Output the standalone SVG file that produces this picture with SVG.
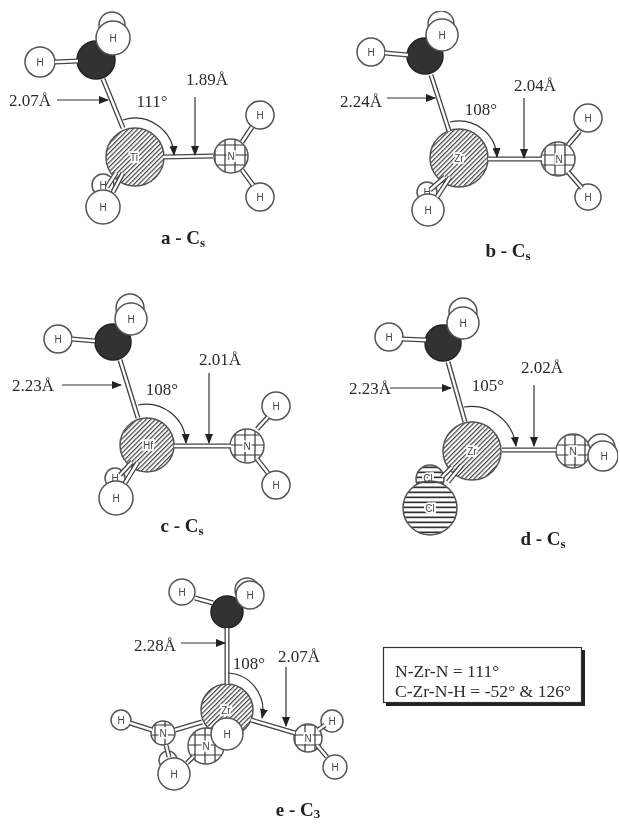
<svg xmlns="http://www.w3.org/2000/svg" width="620" height="824" viewBox="0 0 620 824">
<style>
text{font-family:"Liberation Serif","Times New Roman",serif;fill:#2c2c2c}
.d{font-size:17px}
.cap{font-size:19px;font-weight:bold;text-anchor:middle;fill:#222}
.sub{font-size:13px}
.box{font-size:17.6px}
.m{text-anchor:middle;font-size:17px}
.a{font-family:"Liberation Sans",Arial,sans-serif;font-size:10px;text-anchor:middle;fill:#444}
.al{stroke:#fff;stroke-width:3.5px;paint-order:stroke}
circle{stroke:#555;stroke-width:1.5}
.h{fill:#fff}
.c{fill:#333;stroke:#222}
.tm{fill:url(#diag)}
.n{fill:url(#grid)}
.cl{fill:url(#horiz)}
.bo{stroke:#444;stroke-width:5;fill:none}
.bi{stroke:#fff;stroke-width:2.4;fill:none}
.ar{stroke:#333;stroke-width:1.2;fill:none;marker-end:url(#tip)}
</style>
<defs>
<pattern id="diag" width="3.3" height="3.3" patternUnits="userSpaceOnUse" patternTransform="rotate(45)"><rect width="3.3" height="3.3" fill="#fff"/><rect width="1.2" height="3.3" fill="#444"/></pattern>
<pattern id="grid" width="10" height="10" patternUnits="userSpaceOnUse"><rect width="10" height="10" fill="#fff"/><path d="M0 5H10M5 0V10" stroke="#333" stroke-width="1.2"/></pattern>
<pattern id="horiz" width="5" height="5" patternUnits="userSpaceOnUse"><rect width="5" height="5" fill="#fff"/><rect y="1.5" width="5" height="1.7" fill="#333"/></pattern>
<marker id="tip" viewBox="0 0 10 8" refX="9" refY="4" markerWidth="10" markerHeight="8" markerUnits="userSpaceOnUse" orient="auto"><path d="M0 0L10 4L0 8Z" fill="#222"/></marker>
<filter id="scan" x="0" y="0" width="1" height="1"><feGaussianBlur stdDeviation="0.5"/></filter>
</defs>
<rect width="620" height="824" fill="#fff"/>
<g filter="url(#scan)">
<g id="nodes">
<g id="mol-a">
<g id="a-h3"><circle class="h" cx="112" cy="25" r="13"/></g>
<g id="a-c"><circle class="c" cx="96" cy="60" r="19"/></g>
<g id="a-h1"><circle class="h" cx="40" cy="62" r="15"/><text class="a" x="40" y="65.5">H</text></g>
<g id="a-h2"><circle class="h" cx="113" cy="38" r="17"/><text class="a" x="113" y="41.5">H</text></g>
<g id="a-ti"><circle class="tm" cx="135" cy="157" r="29"/><text class="a al" x="134" y="160.5">Ti</text></g>
<g id="a-n"><circle class="n" cx="231" cy="156" r="17"/><text class="a al" x="231" y="159.5">N</text></g>
<g id="a-h4"><circle class="h" cx="260" cy="115" r="14"/><text class="a" x="260" y="118.5">H</text></g>
<g id="a-h5"><circle class="h" cx="260" cy="197" r="14"/><text class="a" x="260" y="200.5">H</text></g>
<g id="a-h6"><circle class="h" cx="103" cy="185" r="11"/><text class="a" x="103" y="189">H</text></g>
<g id="a-h7"><circle class="h" cx="103" cy="207" r="17"/><text class="a" x="103" y="210.5">H</text></g>
</g>
<g id="mol-b">
<g id="b-h3"><circle class="h" cx="441" cy="24" r="13"/></g>
<g id="b-c"><circle class="c" cx="425" cy="56" r="18"/></g>
<g id="b-h1"><circle class="h" cx="371" cy="52" r="14"/><text class="a" x="371" y="55.5">H</text></g>
<g id="b-h2"><circle class="h" cx="442" cy="35" r="16"/><text class="a" x="442" y="38.5">H</text></g>
<g id="b-zr"><circle class="tm" cx="459" cy="158" r="29"/><text class="a al" x="459" y="161.5">Zr</text></g>
<g id="b-n"><circle class="n" cx="558" cy="159" r="17"/><text class="a al" x="559" y="162.5">N</text></g>
<g id="b-h4"><circle class="h" cx="588" cy="118" r="14"/><text class="a" x="588" y="121.5">H</text></g>
<g id="b-h5"><circle class="h" cx="588" cy="197" r="13"/><text class="a" x="588" y="200.5">H</text></g>
<g id="b-h6"><circle class="h" cx="427" cy="192" r="10"/><text class="a" x="427" y="195.5">H</text></g>
<g id="b-h7"><circle class="h" cx="428" cy="210" r="16"/><text class="a" x="428" y="213.5">H</text></g>
</g>
<g id="mol-c">
<g id="c-h3"><circle class="h" cx="130" cy="308" r="14"/></g>
<g id="c-c"><circle class="c" cx="113" cy="342" r="18"/></g>
<g id="c-h1"><circle class="h" cx="58" cy="339" r="14"/><text class="a" x="58" y="342.5">H</text></g>
<g id="c-h2"><circle class="h" cx="131" cy="319" r="16"/><text class="a" x="131" y="322.5">H</text></g>
<g id="c-hf"><circle class="tm" cx="147" cy="445" r="27"/><text class="a al" x="148" y="448.5">Hf</text></g>
<g id="c-n"><circle class="n" cx="247" cy="446" r="17"/><text class="a al" x="247" y="449.5">N</text></g>
<g id="c-h4"><circle class="h" cx="276" cy="406" r="14"/><text class="a" x="276" y="409.5">H</text></g>
<g id="c-h5"><circle class="h" cx="276" cy="485" r="14"/><text class="a" x="276" y="488.5">H</text></g>
<g id="c-h6"><circle class="h" cx="115" cy="478" r="10"/><text class="a" x="115" y="481.5">H</text></g>
<g id="c-h7"><circle class="h" cx="116" cy="498" r="17"/><text class="a" x="116" y="501.5">H</text></g>
</g>
<g id="mol-d">
<g id="d-h3"><circle class="h" cx="463" cy="312" r="14"/></g>
<g id="d-c"><circle class="c" cx="443" cy="343" r="18"/></g>
<g id="d-h1"><circle class="h" cx="389" cy="337" r="14"/><text class="a" x="389" y="340.5">H</text></g>
<g id="d-h2"><circle class="h" cx="463" cy="323" r="16"/><text class="a" x="463" y="326.5">H</text></g>
<g id="d-zr"><circle class="tm" cx="472" cy="451" r="29"/><text class="a al" x="472" y="454.5">Zr</text></g>
<g id="d-cl2"><circle class="cl" cx="430" cy="479" r="14"/><text class="a al" x="428" y="482">Cl</text></g>
<g id="d-cl1"><circle class="cl" cx="430" cy="508" r="27"/><text class="a al" x="430" y="511.5">Cl</text></g>
<g id="d-h5"><circle class="h" cx="601" cy="448" r="14"/></g>
<g id="d-n"><circle class="n" cx="573" cy="451" r="17"/><text class="a al" x="573" y="454.5">N</text></g>
<g id="d-h4"><circle class="h" cx="603" cy="456" r="15"/><text class="a" x="604" y="459.5">H</text></g>
</g>
<g id="mol-e">
<g id="e-h3"><circle class="h" cx="247" cy="590" r="12"/></g>
<g id="e-c"><circle class="c" cx="227" cy="612" r="16"/></g>
<g id="e-h1"><circle class="h" cx="182" cy="592" r="13"/><text class="a" x="182" y="595.5">H</text></g>
<g id="e-h2"><circle class="h" cx="250" cy="595" r="14"/><text class="a" x="250" y="598.5">H</text></g>
<g id="e-zr"><circle class="tm" cx="227" cy="710" r="26"/><text class="a al" x="226" y="714">Zr</text></g>
<g id="e-n1"><circle class="n" cx="163" cy="733" r="12"/><text class="a al" x="163" y="736.5">N</text></g>
<g id="e-h4"><circle class="h" cx="121" cy="720" r="10"/><text class="a" x="121" y="723.5">H</text></g>
<g id="e-h6"><circle class="h" cx="168" cy="760" r="9"/></g>
<g id="e-h5"><circle class="h" cx="174" cy="774" r="16"/><text class="a" x="174" y="777.5">H</text></g>
<g id="e-n2"><circle class="n" cx="206" cy="746" r="18"/><text class="a al" x="206" y="749.5">N</text></g>
<g id="e-h7"><circle class="h" cx="227" cy="734" r="16"/><text class="a" x="227" y="737.5">H</text></g>
<g id="e-n3"><circle class="n" cx="308" cy="738" r="14"/><text class="a al" x="308" y="741.5">N</text></g>
<g id="e-h8"><circle class="h" cx="332" cy="721" r="11"/><text class="a" x="332" y="724.5">H</text></g>
<g id="e-h9"><circle class="h" cx="335" cy="767" r="12"/><text class="a" x="335" y="770.5">H</text></g>
</g>
</g>
<g id="connectors">
<path class="bo" d="M55 62L78 61M103 79L123 128M163 157L213 156M242 142L252 127M242 170L253 185M123 173L113 192M116 173L107 187"/>
<path class="bi" d="M55 62L78 61M103 79L123 128M163 157L213 156M242 142L252 127M242 170L253 185M123 173L113 192M116 173L107 187"/>
<path class="bo" d="M385 53L408 55M431 75L449 131M488 159L542 159M568 145L580 131M568 172L582 188M450 177L437 197M445 177L430 190"/>
<path class="bi" d="M385 53L408 55M431 75L449 131M488 159L542 159M568 145L580 131M568 172L582 188M450 177L437 197M445 177L430 190"/>
<path class="bo" d="M72 339L95 341M120 360L138 418M174 446L231 446M257 429L268 417M257 459L268 473M138 462L125 483M132 462L120 475"/>
<path class="bi" d="M72 339L95 341M120 360L138 418M174 446L231 446M257 429L268 417M257 459L268 473M138 462L125 483M132 462L120 475"/>
<path class="bo" d="M402 339L426 340M448 362L465 422M502 450L556 450M462 465L448 482M452 467L442 477"/>
<path class="bi" d="M402 339L426 340M448 362L465 422M502 450L556 450M462 465L448 482M452 467L442 477"/>
<path class="bo" d="M195 598L213 603M227 628V684M251 720L295 733M202 722L175 730M130 723L152 730M317 745L327 757M318 730L325 725M166 745L169 757M193 757L187 763"/>
<path class="bi" d="M195 598L213 603M227 628V684M251 720L295 733M202 722L175 730M130 723L152 730M317 745L327 757M318 730L325 725M166 745L169 757M193 757L187 763"/>
<path class="ar" d="M57 100H108"/><path class="ar" d="M195 97V155"/><path class="ar" d="M123 120A39 39 0 0 1 174 155"/>
<path class="ar" d="M387 98H435"/><path class="ar" d="M524 98V158"/><path class="ar" d="M450 122A38 38 0 0 1 497 157"/>
<path class="ar" d="M62 385H121"/><path class="ar" d="M209 373V443"/><path class="ar" d="M138 405A40 40 0 0 1 186 443"/>
<path class="ar" d="M390 388H451"/><path class="ar" d="M534 385V446"/><path class="ar" d="M464 407A45 45 0 0 1 516 446"/>
<path class="ar" d="M181 643H225"/><path class="ar" d="M286 667V726"/><path class="ar" d="M228 673A37 37 0 0 1 262 718"/>
</g>
<g id="labels">
<text class="d" x="9" y="106">2.07Å</text><text class="m" x="207" y="85">1.89Å</text><text class="m" x="152" y="107">111°</text>
<text class="cap" x="183" y="244">a - C<tspan class="sub" dy="3">s</tspan></text>
<text class="d" x="340" y="107">2.24Å</text><text class="m" x="535" y="91">2.04Å</text><text class="m" x="481" y="115">108°</text>
<text class="cap" x="508" y="257">b - C<tspan class="sub" dy="3">s</tspan></text>
<text class="d" x="12" y="391">2.23Å</text><text class="m" x="220" y="365">2.01Å</text><text class="m" x="162" y="395">108°</text>
<text class="cap" x="182" y="532">c - C<tspan class="sub" dy="3">s</tspan></text>
<text class="d" x="349" y="394">2.23Å</text><text class="m" x="542" y="373">2.02Å</text><text class="m" x="488" y="391">105°</text>
<text class="cap" x="543" y="545">d - C<tspan class="sub" dy="3">s</tspan></text>
<text class="m" x="155" y="651">2.28Å</text><text class="m" x="299" y="662">2.07Å</text><text class="m" x="249" y="669">108°</text>
<text class="cap" x="298" y="816">e - C<tspan class="sub" dy="2">3</tspan></text>
</g>
<g id="note">
<rect x="386" y="650" width="199" height="56" fill="#222"/>
<rect x="383.5" y="647.5" width="198" height="55" fill="#fff" stroke="#333" stroke-width="1.2"/>
<text class="box" x="395" y="677">N-Zr-N = 111°</text>
<text class="box" x="395" y="697">C-Zr-N-H = -52° &amp; 126°</text>
</g>
</g>
</svg>
